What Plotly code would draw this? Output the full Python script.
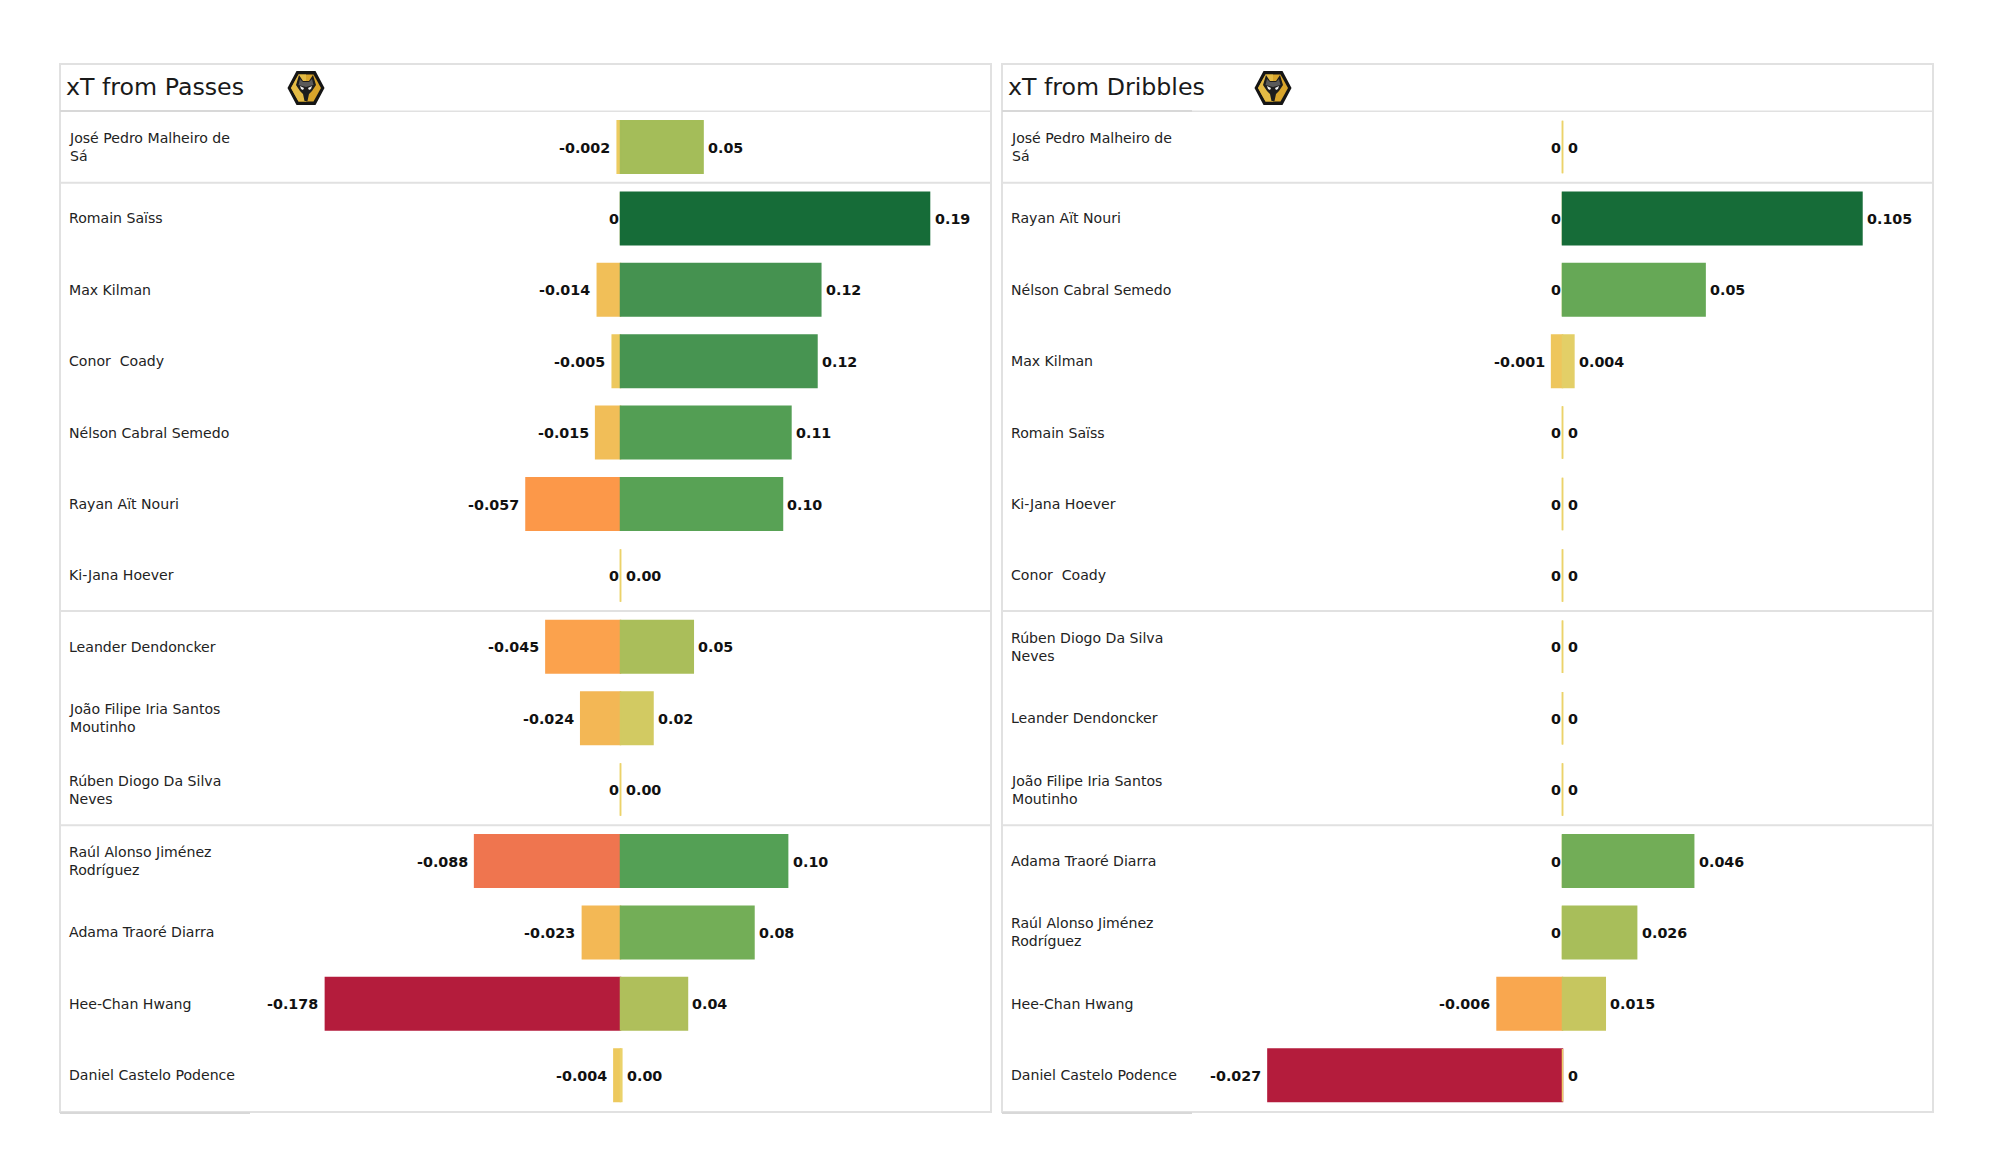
import plotly.graph_objects as go

TITLE_LEFT = "xT from Passes"
TITLE_RIGHT = "xT from Dribbles"

players_passes = ["José Pedro Malheiro de<br>Sá", "Romain Saïss", "Max Kilman", "Conor \u00a0Coady",
                  "Nélson Cabral Semedo", "Rayan Aït Nouri", "Ki-Jana Hoever", "Leander Dendoncker",
                  "João Filipe Iria Santos<br>Moutinho", "Rúben Diogo Da Silva<br>Neves",
                  "Raúl Alonso Jiménez<br>Rodríguez", "Adama Traoré Diarra", "Hee-Chan Hwang",
                  "Daniel Castelo Podence"]
passes_pos = [0.0498, 0.1864, 0.1208, 0.1185, 0.1028, 0.0977, 0, 0.0439, 0.0196, 0, 0.1008, 0.0805, 0.0404, 0.0008]
passes_neg = [-0.002, 0, -0.014, -0.005, -0.015, -0.057, 0, -0.045, -0.024, 0, -0.088, -0.023, -0.178, -0.004]
passes_pos_labels = ["0.05", "0.19", "0.12", "0.12", "0.11", "0.10", "0.00", "0.05", "0.02", "0.00", "0.10", "0.08", "0.04", "0.00"]
passes_neg_labels = ["-0.002", "0", "-0.014", "-0.005", "-0.015", "-0.057", "0", "-0.045", "-0.024", "0", "-0.088", "-0.023", "-0.178", "-0.004"]

players_dribbles = ["José Pedro Malheiro de<br>Sá", "Rayan Aït Nouri", "Nélson Cabral Semedo", "Max Kilman",
                    "Romain Saïss", "Ki-Jana Hoever", "Conor \u00a0Coady", "Rúben Diogo Da Silva<br>Neves",
                    "Leander Dendoncker", "João Filipe Iria Santos<br>Moutinho", "Adama Traoré Diarra",
                    "Raúl Alonso Jiménez<br>Rodríguez", "Hee-Chan Hwang", "Daniel Castelo Podence"]
dribbles_pos = [0, 0.105, 0.05, 0.004, 0, 0, 0, 0, 0, 0, 0.046, 0.026, 0.015, 0]
dribbles_neg = [0, 0, 0, -0.001, 0, 0, 0, 0, 0, 0, 0, 0, -0.006, -0.027]
dribbles_pos_labels = ["0", "0.105", "0.05", "0.004", "0", "0", "0", "0", "0", "0", "0.046", "0.026", "0.015", "0"]
dribbles_neg_labels = ["0", "0", "0", "-0.001", "0", "0", "0", "0", "0", "0", "0", "0", "-0.006", "-0.027"]

W, H = 2000, 1175
FONT = "DejaVu Sans"
GRID = "#e1e1e1"

CMAP = [(-1, "#b41c3c"), (-.5, "#ef744f"), (-.32, "#fc9849"), (-.25, "#fba24d"), (-.135, "#f3b755"),
        (-.08, "#f1bf58"), (-.01, "#eccb5f"), (0, "#ecd26a"), (.1, "#d4cb62"), (.21, "#b0bf5b"),
        (.27, "#a3bd59"), (.43, "#74ae57"), (.53, "#56a155"), (.65, "#459250"), (1, "#166c38")]
COLORSCALE = [[(t + 1) / 2, c] for t, c in CMAP]

PANEL_TOP, PANEL_BOTTOM = 64, 1112
ROW0, ROW_STEP = 147, 71.4
y_range = [(PANEL_BOTTOM - ROW0) / ROW_STEP, (PANEL_TOP - ROW0) / ROW_STEP]


def bar(vals, names, xa, ya, cmax):
    return go.Bar(
        x=vals, y=names, xaxis=xa, yaxis=ya, orientation="h", width=0.735, showlegend=False, hoverinfo="x+y",
        marker=dict(color=vals, colorscale=COLORSCALE, cmin=-cmax, cmax=cmax,
                    line=dict(width=1.5, color=vals, colorscale=COLORSCALE, cmin=-cmax, cmax=cmax)),
    )


fig = go.Figure()
fig.add_trace(bar(passes_neg, players_passes, "x", "y", 0.178))
fig.add_trace(bar(passes_pos, players_passes, "x", "y", 0.1864))
fig.add_trace(bar(dribbles_neg, players_dribbles, "x3", "y2", 0.027))
fig.add_trace(bar(dribbles_pos, players_dribbles, "x2", "y2", 0.105))


def x_axis(left, right, zero, per_unit, **kw):
    return dict(domain=[left / W, right / W], range=[(left - zero) / per_unit, (right - zero) / per_unit],
                visible=False, fixedrange=True, **kw)


def y_axis(names, anchor):
    return dict(domain=[1 - PANEL_BOTTOM / H, 1 - PANEL_TOP / H], type="category", categoryorder="array",
                categoryarray=names, range=y_range, visible=False, anchor=anchor, fixedrange=True)


L = (60, 991, 620.5, 1658)
R = (1002, 1933, 1562.5, 2852)
R_NEG = (1002, 1933, 1562.5, 10910)

annotations, shapes = [], []


def value_labels(vals, labels, xref, yref, names, side):
    for v, t, n in zip(vals, labels, names):
        if side == "right":
            anchor, shift = "left", 3
        else:
            anchor, shift = "right", 0 if t == "0" else -5
        annotations.append(dict(x=v, y=n, xref=xref, yref=yref, text=f"<b>{t}</b>", showarrow=False,
                                xanchor=anchor, yanchor="middle", xshift=shift, yshift=-0.5,
                                font=dict(family=FONT, size=14.3, color="#111111")))


value_labels(passes_pos, passes_pos_labels, "x", "y", players_passes, "right")
value_labels(passes_neg, passes_neg_labels, "x", "y", players_passes, "left")
value_labels(dribbles_pos, dribbles_pos_labels, "x2", "y2", players_dribbles, "right")
value_labels(dribbles_neg, dribbles_neg_labels, "x3", "y2", players_dribbles, "left")


def panel(names, title, xname, yname, left, right, logo_cx):
    # player names
    for n in names:
        annotations.append(dict(x=(left + 6.5) / W, xref="paper", y=n, yref=yname, text=n, showarrow=False,
                                xanchor="left", yanchor="middle", align="left",
                                font=dict(family=FONT, size=14.1, color="#222222")))
    annotations.append(dict(x=(left + 4) / W, xref="paper", y=1 - 86.5 / H, yref="paper", text=title, showarrow=False,
                            xanchor="left", yanchor="middle", font=dict(family=FONT, size=23.7, color="#1a1a1a")))
    # frame and group separators
    shapes.append(dict(type="rect", xref=f"{xname} domain", yref=f"{yname} domain", x0=0, x1=1, y0=0, y1=1,
                       line=dict(color=GRID, width=2), layer="below"))
    for b in (-0.5, 0.5, 6.5, 9.5):
        shapes.append(dict(type="line", xref=f"{xname} domain", yref=yname, x0=0, x1=1, y0=b, y1=b,
                           line=dict(color=GRID, width=2 if b != -0.5 else 1.5), layer="below"))
    # slightly darker line stubs under the title and at the foot of the panel
    for py in (111, 1113):
        shapes.append(dict(type="line", xref="paper", yref="paper", x0=left / W, x1=(left + 190) / W,
                           y0=1 - py / H, y1=1 - py / H, line=dict(color="#d8d8d8", width=2), layer="below"))
    logo(logo_cx, 88)


def px_path(points, cx, cy):
    return "M" + "L".join(f"{(cx + a) / W:.5f},{1 - (cy + b) / H:.5f}" for a, b in points) + "Z"


def logo(cx, cy):
    parts = [
        ([(-18.5, 0), (-9.5, -17), (9.5, -17), (18.5, 0), (9.5, 17), (-9.5, 17)], "#151515"),
        ([(-15, 0), (-7.5, -13.5), (7.5, -13.5), (15, 0), (7.5, 13.5), (-7.5, 13.5)], "#d9a52b"),
        ([(-15, 0), (-7.5, -13.5), (0, -13.5), (0, 13.5), (-7.5, 13.5)], "#e4bb45"),
        ([(-7, -13), (-3, -7), (3, -7), (7, -13), (10, -3), (6, 3), (3, 6), (1.5, 13), (-1.5, 13), (-3, 6), (-6, 3), (-10, -3)], "#1d1d1d"),
        ([(-6, -9), (-3, -6), (3, -6), (6, -9), (7.5, -3), (0, -1), (-7.5, -3)], "#5a5a5a"),
        ([(-6, -2), (-2, 0), (-3, 2), (-5, 1)], "#f2f2f2"),
        ([(6, -2), (2, 0), (3, 2), (5, 1)], "#f2f2f2"),
    ]
    for pts, color in parts:
        shapes.append(dict(type="path", xref="paper", yref="paper", path=px_path(pts, cx, cy),
                           fillcolor=color, line=dict(width=0), layer="above"))


panel(players_passes, TITLE_LEFT, "x", "y", L[0], L[1], 306)
panel(players_dribbles, TITLE_RIGHT, "x2", "y2", R[0], R[1], 1273)

fig.update_layout(
    width=W, height=H, margin=dict(l=0, r=0, t=0, b=0), paper_bgcolor="white", plot_bgcolor="white",
    barmode="overlay", font=dict(family=FONT), showlegend=False,
    xaxis=x_axis(*L, anchor="y"),
    xaxis2=x_axis(*R, anchor="y2", overlaying="x3"),
    xaxis3=x_axis(*R_NEG, anchor="y2"),
    yaxis=y_axis(players_passes, "x"),
    yaxis2=y_axis(players_dribbles, "x3"),
    annotations=annotations, shapes=shapes,
)

fig.write_html("out.html", config=dict(displayModeBar=False), post_script="document.body.style.margin='0';")
